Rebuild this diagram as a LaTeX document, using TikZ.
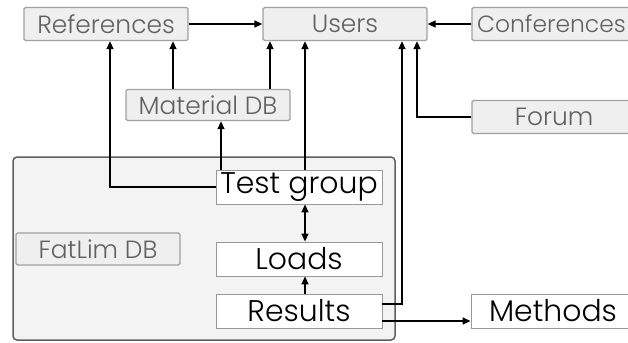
\documentclass[tikz,border=0pt]{standalone}
\usepackage{fontspec}
\setmainfont{Poppins Light}
\usetikzlibrary{arrows.meta,calc}
\definecolor{gbfill}{HTML}{EFEFEF}
\definecolor{gbdraw}{HTML}{A0A0A0}
\definecolor{gbtext}{HTML}{606060}
\definecolor{cfill}{HTML}{F3F3F3}
\definecolor{cdraw}{HTML}{606060}
\definecolor{wbdraw}{HTML}{999999}
\begin{document}
\begin{tikzpicture}[x=1bp,y=-1bp,
  graybox/.style={draw=gbdraw,fill=gbfill,line width=1.3bp,rounded corners=1.5bp,
    minimum width=164bp,minimum height=33bp,inner sep=0pt,text=gbtext,
    font=\fontsize{25}{28}\selectfont},
  whitebox/.style={draw=wbdraw,fill=white,line width=0.9bp,
    minimum width=166bp,minimum height=34bp,inner sep=0pt,text=black,
    font=\fontsize{30}{32}\selectfont},
  arr/.style={line width=1.5bp,-{Triangle[length=8bp,width=7bp]}},
  darr/.style={line width=1.5bp,{Triangle[length=8bp,width=7bp]}-{Triangle[length=8bp,width=7bp]}}]
\useasboundingbox (0,0) rectangle (628,342);
\fill[white] (0,0) rectangle (628,342);
\draw[draw=cdraw,fill=cfill,line width=1.5bp,rounded corners=4bp] (13,157) rectangle (395,340);
\node[graybox] (ref) at (106,24) {References};
\node[graybox] (users) at (345,24) {Users};
\node[graybox,text width=154bp,align=left,font=\fontsize{23.5}{28}\selectfont] (conf) at (554,24) {Conferences};
\node[graybox] (forum) at (554,117) {Forum};
\node[graybox,minimum height=31bp] (mat) at (208,105) {Material DB};
\node[graybox,minimum height=32bp] (fat) at (98,249) {FatLim DB};
\node[whitebox] (tg) at (299,187) {Test group};
\node[whitebox] (loads) at (299,259) {Loads};
\node[whitebox] (res) at (299,311) {Results};
\node[whitebox,minimum width=164bp] (meth) at (553,311) {Methods};
% connectors
\draw[arr] (ref.east) -- (users.west);
\draw[arr] (conf.west) -- (users.east);
\draw[arr] ([xshift=-35bp]mat.north) -- ([xshift=-35bp]mat.north |- ref.south);
\draw[arr] ([xshift=62bp]mat.north) -- ([xshift=62bp]mat.north |- users.south);
\draw[arr] (tg.west) -| ([xshift=4bp]ref.south);
\draw[arr] ([xshift=-78bp]tg.north) -- ([xshift=-78bp]tg.north |- mat.south);
\draw[arr] ([xshift=6bp]tg.north) -- ([xshift=6bp]tg.north |- users.south);
\draw[arr] ([yshift=7bp]res.east) -| ([xshift=57bp]users.south);
\draw[arr] (forum.west) -| ([xshift=72bp]users.south);
\draw[arr] ([yshift=-10bp]res.east) -- ([yshift=-10bp]res.east -| meth.west);
\draw[darr] ([xshift=6bp]tg.south) -- ([xshift=6bp]tg.south |- loads.north);
\draw[arr] ([xshift=6bp]res.north) -- ([xshift=6bp]res.north |- loads.south);
\end{tikzpicture}
\end{document}
